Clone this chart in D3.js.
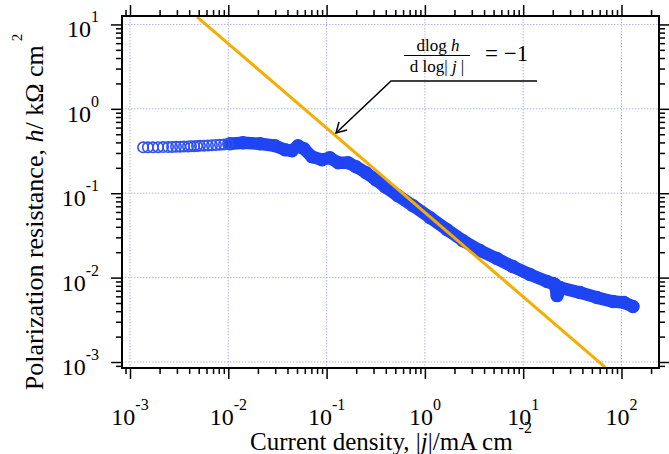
<!DOCTYPE html>
<html>
<head>
<meta charset="utf-8">
<script src="https://cdn.jsdelivr.net/npm/d3@7"></script>
<style>
  body { margin: 0; background: #fff; }
  svg { display: block; }
</style>
</head>
<body>
<div id="chart"></div>
<script>
// open circles at the low current end
const lowJ = [0.00136, 0.00152, 0.00171, 0.00193, 0.00217, 0.00244, 0.00268, 0.00294, 0.00323, 0.00354, 0.00389,
              0.00417, 0.00448, 0.0048, 0.00515, 0.00566, 0.00621, 0.00682, 0.00749, 0.00823, 0.00904, 0.00993];
const lowH = [0.35, 0.35, 0.35, 0.351, 0.352, 0.352, 0.353, 0.355, 0.356, 0.357, 0.358,
              0.36, 0.361, 0.362, 0.364, 0.366, 0.368, 0.37, 0.373, 0.376, 0.379, 0.382];

// dense part of the measurement (points overlap into a band)
const bandJ = [0.0104, 0.0141, 0.021, 0.0299, 0.0377, 0.0445, 0.0512, 0.0589, 0.071, 0.0897, 0.108, 0.131,
               0.165, 0.199, 0.252, 0.318, 0.393, 0.532, 0.757, 1.13, 1.68, 2.44, 3.64, 5.41, 7.87, 11.7,
               17.5, 20.1, 21.1, 22.1, 23.7, 37.8, 56.4, 81.9, 106, 131];
const bandH = [0.385, 0.396, 0.385, 0.365, 0.327, 0.318, 0.365, 0.336, 0.270, 0.249, 0.263, 0.230,
               0.230, 0.206, 0.175, 0.144, 0.119, 0.0934, 0.0711, 0.0513, 0.0370, 0.0274, 0.0209, 0.0168, 0.0135, 0.0109,
               0.00897, 0.00849, 0.00826, 0.00612, 0.00762, 0.00665, 0.0058, 0.0052, 0.00506, 0.00454];

// slope -1 guide line
const fitJ = [0.0048, 68];
const fitH = [12.3, 0.00087];

const xTickExps = [-3, -2, -1, 0, 1, 2];
const yTickExps = [1, 0, -1, -2, -3];

const WIDTH = 669, HEIGHT = 454;
const BLUE = "#1f45f2", ORANGE = "#f5ad00";
const FONT = "'Liberation Serif', 'Times New Roman', serif";

const pLeft = 122, pRight = 659, pTop = 16, pBottom = 368;

const SVG = d3.select("#chart")
    .append("svg")
        .attr("width", WIDTH)
        .attr("height", HEIGHT)
        .style("font-family", FONT);

const x = d3.scaleLog()
    .domain([Math.pow(10, -3.0814), Math.pow(10, 2.3817)])
    .range([pLeft, pRight]);

const y = d3.scaleLog()
    .domain([Math.pow(10, -3.071), Math.pow(10, 1.1)])
    .range([pBottom, pTop]);

// minor ticks 2..9 for each decade inside the domain
function minorTicks(scale) {
    let [a, b] = scale.domain();
    let out = [];
    for (let d = -5; d <= 3; d++) {
        for (let k = 2; k <= 9; k++) {
            let v = k * Math.pow(10, d);
            if (v >= Math.min(a, b) && v <= Math.max(a, b)) out.push(v);
        }
    }
    return out;
}
const xMajor = xTickExps.map(e => Math.pow(10, e));
const yMajor = yTickExps.map(e => Math.pow(10, e));

// grid
const grid = SVG.append("g")
    .attr("stroke", "#b3b3f2")
    .attr("stroke-width", 1)
    .attr("stroke-dasharray", "1.5,1.5");
grid.selectAll("line.gx")
    .data(xMajor)
    .enter()
    .append("line")
        .attr("x1", d => x(d)).attr("x2", d => x(d))
        .attr("y1", pTop).attr("y2", pBottom);
grid.selectAll("line.gy")
    .data(yMajor)
    .enter()
    .append("line")
        .attr("y1", d => y(d)).attr("y2", d => y(d))
        .attr("x1", pLeft).attr("x2", pRight);

// data band
const line = d3.line()
    .x((d, i) => x(bandJ[i]))
    .y((d, i) => y(bandH[i]));

SVG.append("path")
    .datum(bandJ)
    .attr("d", line)
    .attr("fill", "none")
    .attr("stroke", BLUE)
    .attr("stroke-width", 12.5)
    .attr("stroke-linecap", "round")
    .attr("stroke-linejoin", "round");

SVG.append("g")
    .selectAll("circle")
    .data(bandJ.map((j, i) => [j, bandH[i]]))
    .enter()
    .append("circle")
        .attr("cx", d => x(d[0]))
        .attr("cy", d => y(d[1]))
        .attr("r", 6)
        .attr("fill", "none")
        .attr("stroke", BLUE)
        .attr("stroke-width", 1.5);

SVG.append("g")
    .selectAll("circle")
    .data(lowJ.map((j, i) => [j, lowH[i]]))
    .enter()
    .append("circle")
        .attr("cx", d => x(d[0]))
        .attr("cy", d => y(d[1]))
        .attr("r", 5.2)
        .attr("fill", "none")
        .attr("stroke", "#2f52f0")
        .attr("stroke-width", 1.6);

// slope -1 line
SVG.append("line")
    .attr("x1", x(fitJ[0])).attr("y1", y(fitH[0]))
    .attr("x2", x(fitJ[1])).attr("y2", y(fitH[1]))
    .attr("stroke", ORANGE)
    .attr("stroke-width", 3);

// axes (ticks outward on all four sides)
function addAxis(axisFn, scale, transform, major) {
    SVG.append("g")
        .attr("transform", transform)
        .call(axisFn(scale).tickValues(minorTicks(scale)).tickSize(6).tickFormat(""))
        .call(g => g.select(".domain").remove());
    SVG.append("g")
        .attr("transform", transform)
        .call(axisFn(scale).tickValues(major).tickSize(11).tickFormat(""))
        .call(g => g.select(".domain").remove());
}
addAxis(d3.axisBottom, x, `translate(0,${pBottom})`, xMajor);
addAxis(d3.axisTop, x, `translate(0,${pTop})`, xMajor);
addAxis(d3.axisLeft, y, `translate(${pLeft},0)`, yMajor);
addAxis(d3.axisRight, y, `translate(${pRight},0)`, yMajor);
SVG.selectAll(".tick line").attr("stroke-width", 1.5).attr("stroke", "#000");

SVG.append("rect")
    .attr("x", pLeft).attr("y", pTop)
    .attr("width", pRight - pLeft).attr("height", pBottom - pTop)
    .attr("fill", "none")
    .attr("stroke", "#000")
    .attr("stroke-width", 2);

// tick labels
let xl = SVG.append("g").selectAll("text")
    .data(xTickExps)
    .enter()
    .append("text")
        .attr("x", d => x(Math.pow(10, d)))
        .attr("y", 425)
        .attr("text-anchor", "middle")
        .style("font-size", "24px");
xl.append("tspan").text("10");
xl.append("tspan").attr("dy", -15).style("font-size", "16px").text(d => d);

let yl = SVG.append("g").selectAll("text")
    .data(yTickExps)
    .enter()
    .append("text")
        .attr("x", 99)
        .attr("y", d => y(Math.pow(10, d)) + 13)
        .attr("text-anchor", "end")
        .style("font-size", "24px");
yl.append("tspan").text("10");
yl.append("tspan").attr("dy", -15).style("font-size", "16px").text(d => d);

// axis titles
let xt = SVG.append("text")
    .attr("x", 391)
    .attr("y", 450)
    .attr("text-anchor", "middle")
    .style("font-size", "25px");
xt.append("tspan").text("Current density, |");
xt.append("tspan").style("font-style", "italic").text("j");
xt.append("tspan").text("|/mA cm");
xt.append("tspan").attr("dx", 6).attr("dy", -17).style("font-size", "16px").text("-2");

let yt = SVG.append("text")
    .attr("transform", "translate(43,212) rotate(-90)")
    .attr("text-anchor", "middle")
    .style("font-size", "26px");
yt.append("tspan").text("Polarization resistance, ");
yt.append("tspan").style("font-style", "italic").text("h");
yt.append("tspan").text("/ k\u03A9 cm");
yt.append("tspan").attr("dx", 4).attr("dy", -21).style("font-size", "15px").text("2");

// annotation
const ann = SVG.append("g").style("font-size", "17px");
let num = ann.append("text").attr("x", 438).attr("y", 51).attr("text-anchor", "middle");
num.append("tspan").text("dlog ");
num.append("tspan").style("font-style", "italic").text("h");
ann.append("line")
    .attr("x1", 404).attr("x2", 470).attr("y1", 55.5).attr("y2", 55.5)
    .attr("stroke", "#000").attr("stroke-width", 1.2);
let den = ann.append("text").attr("x", 437).attr("y", 72).attr("text-anchor", "middle");
den.append("tspan").text("d log| ");
den.append("tspan").style("font-style", "italic").text("j");
den.append("tspan").text(" |");
ann.append("text")
    .attr("x", 485).attr("y", 61)
    .style("font-size", "23px")
    .text("= \u22121");

ann.append("polyline")
    .attr("points", "537,81 391,81 336,133")
    .attr("fill", "none")
    .attr("stroke", "#000")
    .attr("stroke-width", 1.5);
ann.append("polyline")
    .attr("points", "339,122 336,133 347,130")
    .attr("fill", "none")
    .attr("stroke", "#000")
    .attr("stroke-width", 1.5);
</script>
</body>
</html>
